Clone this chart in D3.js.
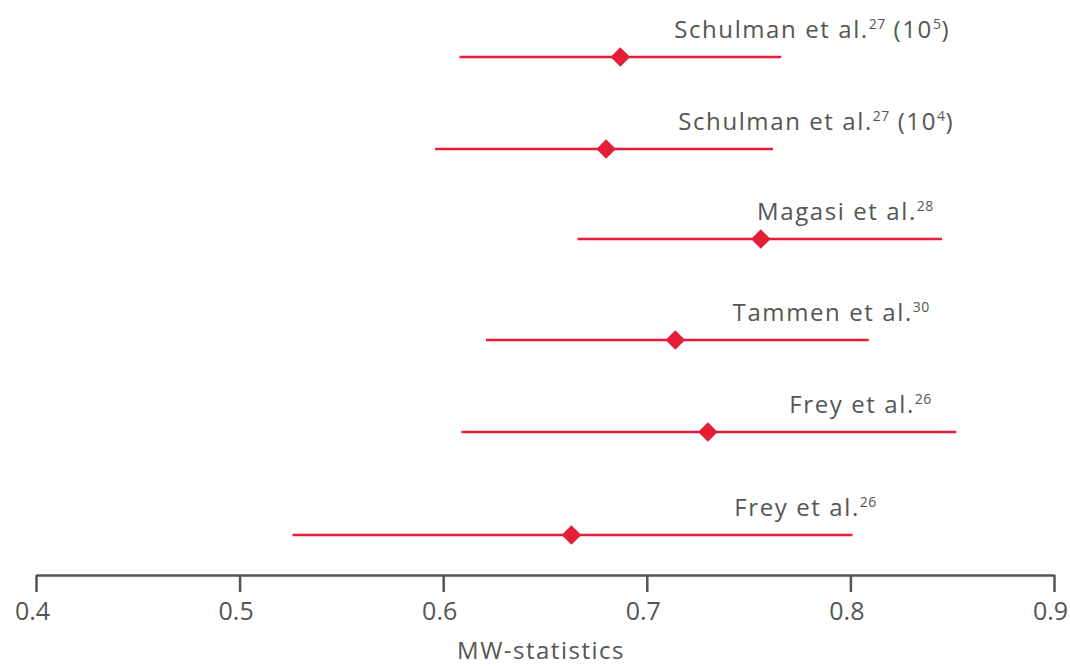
<!DOCTYPE html>
<html>
<head>
<meta charset="utf-8">
<script src="https://cdnjs.cloudflare.com/ajax/libs/d3/7.8.5/d3.min.js"></script>
<style>
body { margin: 0; background: #fff; }
svg { font-family: "Open Sans", sans-serif; }
.axis path, .axis line { stroke: #555; stroke-width: 2.5px; }
.axis text { fill: #555; font-size: 25px; }
</style>
</head>
<body>
<svg width="1070" height="666"></svg>
<script>
// studies, top to bottom
var studies = ["Schulman et al.", "Schulman et al.", "Magasi et al.", "Tammen et al.", "Frey et al.", "Frey et al."];
var refs = ["27", "27", "28", "30", "26", "26"];
var suffix = [["(10", "5", ")"], ["(10", "4", ")"], null, null, null, null];
var estimate = [0.687, 0.680, 0.756, 0.714, 0.730, 0.663];
var lower = [0.608, 0.596, 0.666, 0.621, 0.609, 0.526];
var upper = [0.766, 0.762, 0.845, 0.809, 0.852, 0.801];
// right end of each label, in MW units
var labelEnd = [0.849, 0.851, 0.841, 0.839, 0.840, 0.813];
var ticks = [0.4, 0.5, 0.6, 0.7, 0.8, 0.9];

var red = "#e31e36", grey = "#555";

var svg = d3.select("svg");

var x = d3.scaleLinear().domain([0.4, 0.9]).range([36, 1054]);
// rows are not quite evenly spaced in the original
var y = d3.scaleOrdinal().domain(d3.range(studies.length)).range([57, 149, 239, 340, 432, 535]);

svg.append("g")
    .attr("class", "axis")
    .attr("transform", "translate(0,575)")
    .call(d3.axisBottom(x).tickValues(ticks).tickFormat(d3.format(".1f")).tickSize(17).tickSizeOuter(0))
    .attr("font-family", "Open Sans, sans-serif")
    .call(function(g) {
      g.select(".domain").attr("stroke", grey);
      g.selectAll(".tick line").attr("stroke", grey);
      g.selectAll(".tick text").attr("dy", "0").attr("y", 45).attr("x", -4);
    });

svg.append("text")
    .attr("x", 541)
    .attr("y", 659)
    .attr("text-anchor", "middle")
    .attr("fill", grey)
    .style("font-size", "24px")
    .style("letter-spacing", "1.5px")
    .text("MW-statistics");

var row = svg.append("g").selectAll("g")
    .data(d3.range(studies.length))
  .enter().append("g")
    .attr("transform", function(i) { return "translate(0," + y(i) + ")"; });

row.append("line")
    .attr("x1", function(i) { return x(lower[i]); })
    .attr("x2", function(i) { return x(upper[i]); })
    .attr("stroke", red)
    .attr("stroke-width", 2.5);

row.append("path")
    .attr("d", d3.symbol().type(d3.symbolSquare).size(190))
    .attr("transform", function(i) { return "translate(" + x(estimate[i]) + ",0) rotate(45)"; })
    .attr("fill", red);

var label = row.append("text")
    .attr("x", function(i) { return x(labelEnd[i]); })
    .attr("y", -19)
    .attr("text-anchor", "end")
    .attr("fill", grey)
    .style("font-size", "24px")
    .style("letter-spacing", "1.6px");

label.each(function(i) {
  var t = d3.select(this);
  t.append("tspan").text(studies[i]);
  t.append("tspan").attr("dy", -9).style("font-size", "14px").style("letter-spacing", "0.5px").text(refs[i]);
  if (suffix[i]) {
    t.append("tspan").attr("dy", 9).text(" " + suffix[i][0]);
    t.append("tspan").attr("dy", -9).style("font-size", "14px").style("letter-spacing", "0.5px").text(suffix[i][1]);
    t.append("tspan").attr("dy", 9).text(suffix[i][2]);
  }
});
</script>
</body>
</html>
